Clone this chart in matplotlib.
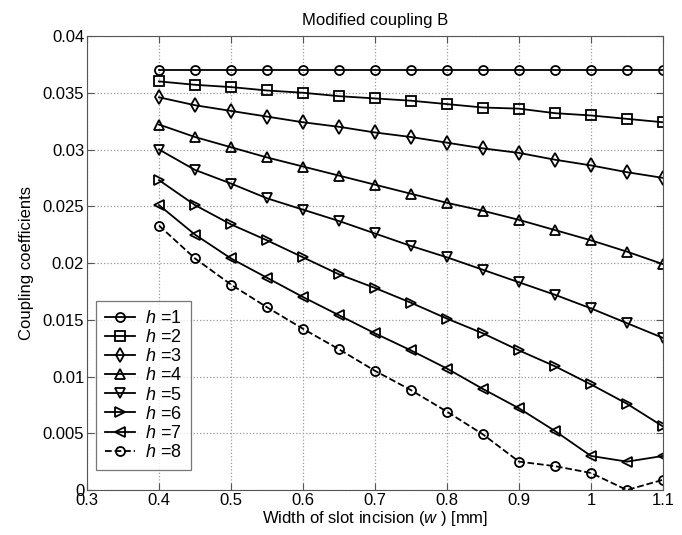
import numpy as np
import matplotlib
matplotlib.use('Agg')
import matplotlib.pyplot as plt

plt.rcParams['font.family'] = ['Liberation Sans', 'DejaVu Sans']
plt.rcParams['mathtext.fontset'] = 'custom'
plt.rcParams['mathtext.it'] = 'Liberation Sans:italic'
plt.rcParams['mathtext.rm'] = 'Liberation Sans'

# slot incision width [mm]
w = [0.4, 0.45, 0.5, 0.55, 0.6, 0.65, 0.7, 0.75, 0.8, 0.85, 0.9, 0.95, 1.0, 1.05, 1.1]

h1 = [0.0370] * 15
h2 = [0.0360, 0.0357, 0.0355, 0.0352, 0.0350, 0.0347, 0.0345, 0.0343, 0.0340, 0.0337,
      0.0336, 0.0332, 0.0330, 0.0327, 0.0324]
h3 = [0.0346, 0.0339, 0.0334, 0.0329, 0.0324, 0.0320, 0.0315, 0.0311, 0.0306, 0.0301,
      0.0297, 0.0291, 0.0286, 0.0280, 0.0275]
h4 = [0.0322, 0.0311, 0.0302, 0.0293, 0.0285, 0.0277, 0.0269, 0.0261, 0.0253, 0.0246,
      0.0238, 0.0229, 0.0220, 0.0210, 0.0199]
h5 = [0.0300, 0.0282, 0.0270, 0.0257, 0.0247, 0.0237, 0.0226, 0.0215, 0.0205, 0.0194,
      0.0183, 0.0172, 0.0160, 0.0147, 0.0134]
h6 = [0.0273, 0.0251, 0.0234, 0.0220, 0.0205, 0.0190, 0.0178, 0.0165, 0.0151, 0.0138,
      0.0123, 0.0109, 0.0093, 0.0076, 0.0056]
h7 = [0.0251, 0.0225, 0.0204, 0.0187, 0.0170, 0.0154, 0.0138, 0.0123, 0.0107, 0.0089,
      0.0072, 0.0052, 0.0030, 0.0025, 0.0030]
h8 = [0.0233, 0.0204, 0.0181, 0.0161, 0.0142, 0.0124, 0.0105, 0.0088, 0.0069, 0.0049,
      0.0025, 0.0021, 0.0015, 0.0000, 0.0009]

series = [h1, h2, h3, h4, h5, h6, h7, h8]
labels = ['1', '2', '3', '4', '5', '6', '7', '8']
markers = ['o', 's', 'd', '^', 'v', '>', '<', 'o']
styles = ['-'] * 7 + ['--']

fig = plt.figure(figsize=(6.82, 5.35), dpi=100)
ax = fig.add_axes([0.1276, 0.0841, 0.8445, 0.8486])

for y, lab, m, ls in zip(series, labels, markers, styles):
    ax.plot(w, y, color='black', linestyle=ls, linewidth=1.3, marker=m,
            markersize=7 if m != 'o' else 6.5, markerfacecolor='none',
            markeredgecolor='black', markeredgewidth=1.3,
            label=r'$h$ =' + lab)

ax.set_xlim(0.3, 1.1)
ax.set_ylim(0, 0.04)
ax.set_xticks(np.arange(0.3, 1.11, 0.1))
ax.set_xticklabels(['0.3', '0.4', '0.5', '0.6', '0.7', '0.8', '0.9', '1', '1.1'])
ax.set_yticks(np.arange(0, 0.0401, 0.005))
ax.set_yticklabels(['0', '0.005', '0.01', '0.015', '0.02', '0.025', '0.03', '0.035', '0.04'])
ax.tick_params(direction='in', labelsize=12, length=5, color='#555555', pad=2,
               top=True, right=True)
ax.grid(True, linestyle=':', color='#999999', linewidth=0.9)
for s in ax.spines.values():
    s.set_color('#555555')

ax.set_title('Modified coupling B', fontsize=12, pad=8)
ax.set_xlabel(r'Width of slot incision ($w$ ) [mm]', fontsize=12, labelpad=1)
ax.set_ylabel('Coupling coefficients', fontsize=12, labelpad=6)

leg = ax.legend(loc='lower left', bbox_to_anchor=(0.0156, 0.044), borderaxespad=0,
                fontsize=13, frameon=True, fancybox=False, edgecolor='#555555',
                handlelength=1.65, labelspacing=0.12, borderpad=0.5,
                handletextpad=0.55)
leg.get_frame().set_linewidth(0.9)

fig.savefig('out.png', dpi=100)
